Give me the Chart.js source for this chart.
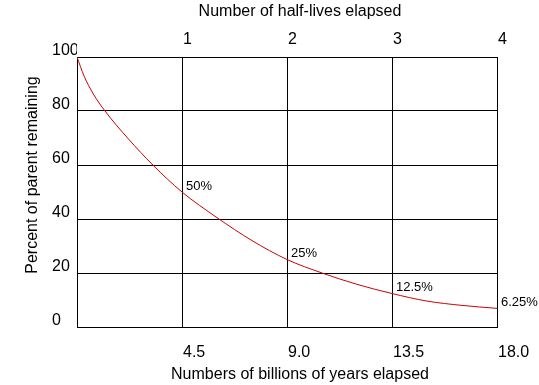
<!DOCTYPE html>
<html>
<head>
<meta charset="utf-8">
<script src="https://cdn.jsdelivr.net/npm/chart.js@4.4.1/dist/chart.umd.min.js"></script>
<style>
    html, body { margin: 0; padding: 0; background: #fff; }
    #wrap { width: 539px; height: 385px; }
</style>
</head>
<body>
<div id="wrap"><canvas id="decayChart" width="539" height="385"></canvas></div>
<script>
// values (billions of years, percent remaining)
const years = [0, 0.3, 0.7, 1.2, 2.2, 3.25, 4.5, 6, 7.5, 9, 10.5, 12, 13.5, 15, 16.5, 18];
const percentRemaining = [100, 93, 86.3, 80, 69.7, 60, 50, 40.5, 32, 25, 20, 15.8, 12.4, 9.6, 8.0, 6.9];

// point labels
const labelYears = [4.5, 9, 13.5, 18];
const labelValues = [50, 25, 12.4, 6.9];
const labelTexts = ['50%', '25%', '12.5%', '6.25%'];

// tick labels
const yearTicks = [0, 4.5, 9, 13.5, 18];
const halfLifeTicks = [0, 1, 2, 3, 4];
const percentTicks = [0, 20, 40, 60, 80, 100];

const FONT = '"Liberation Sans", Arial, Helvetica, sans-serif';

const decayLabels = {
    id: 'decayLabels',
    afterDraw(chart) {
        const { ctx, scales } = chart;
        ctx.save();
        ctx.fillStyle = '#000';
        ctx.font = '13px ' + FONT;
        ctx.textAlign = 'left';
        ctx.textBaseline = 'middle';
        labelYears.forEach((yr, i) => {
            const px = scales.x.getPixelForValue(yr);
            const py = scales.y.getPixelForValue(labelValues[i]);
            ctx.fillText(labelTexts[i], px + 4, py - 6);
        });

        // axis titles
        ctx.font = '16px ' + FONT;
        ctx.textAlign = 'center';
        ctx.fillText('Number of half-lives elapsed', 300, 12);
        ctx.fillText('Numbers of billions of years elapsed', 300, 375);
        ctx.translate(33, 175);
        ctx.rotate(-Math.PI / 2);
        ctx.fillText('Percent of parent remaining', 0, 0);
        ctx.restore();
    }
};

// fixed box sizes so the plot sits where the drawing has it
function fixHoriz(h) {
    return s => { s.height = h; s.paddingLeft = 0; s.paddingRight = 0; };
}

const chart = new Chart(document.getElementById('decayChart'), {
    type: 'line',
    data: {
        datasets: [{
            data: years.map((x, i) => ({ x: x, y: percentRemaining[i] })),
            borderColor: '#cc0000',
            borderWidth: 1,
            pointRadius: 0,
            fill: false,
            cubicInterpolationMode: 'monotone'
        }]
    },
    options: {
        responsive: false,
        animation: false,
        layout: { padding: { left: 52, right: 42, top: 0, bottom: 0 } },
        plugins: {
            legend: { display: false },
            tooltip: { enabled: false }
        },
        scales: {
            x: {
                type: 'linear',
                position: 'bottom',
                min: 0,
                max: 18,
                afterBuildTicks: s => { s.ticks = yearTicks.map(v => ({ value: v })); },
                afterFit: fixHoriz(58),
                grid: { color: '#000', lineWidth: 1, drawTicks: false },
                border: { color: '#000', width: 1 },
                ticks: {
                    color: '#000',
                    font: { family: FONT, size: 16 },
                    align: 'start',
                    labelOffset: 1,
                    padding: 16,
                    maxRotation: 0,
                    callback: v => v === 0 ? '' : v.toFixed(1)
                }
            },
            x2: {
                type: 'linear',
                position: 'top',
                min: 0,
                max: 4,
                afterBuildTicks: s => { s.ticks = halfLifeTicks.map(v => ({ value: v })); },
                afterFit: fixHoriz(57),
                grid: { display: false, drawTicks: false },
                border: { color: '#000', width: 1 },
                ticks: {
                    color: '#000',
                    font: { family: FONT, size: 16 },
                    align: 'start',
                    labelOffset: 1,
                    padding: 8,
                    maxRotation: 0,
                    callback: v => v === 0 ? '' : String(v)
                }
            },
            y: {
                min: 0,
                max: 100,
                afterBuildTicks: s => { s.ticks = percentTicks.map(v => ({ value: v })); },
                afterFit: s => { s.width = 25; s.paddingTop = 0; s.paddingBottom = 0; },
                grid: { color: '#000', lineWidth: 1, drawTicks: false },
                border: { color: '#000', width: 1 },
                ticks: {
                    color: '#000',
                    font: { family: FONT, size: 16 },
                    crossAlign: 'far',
                    labelOffset: -6,
                    padding: 0
                }
            }
        }
    },
    plugins: [decayLabels]
});
</script>
</body>
</html>
